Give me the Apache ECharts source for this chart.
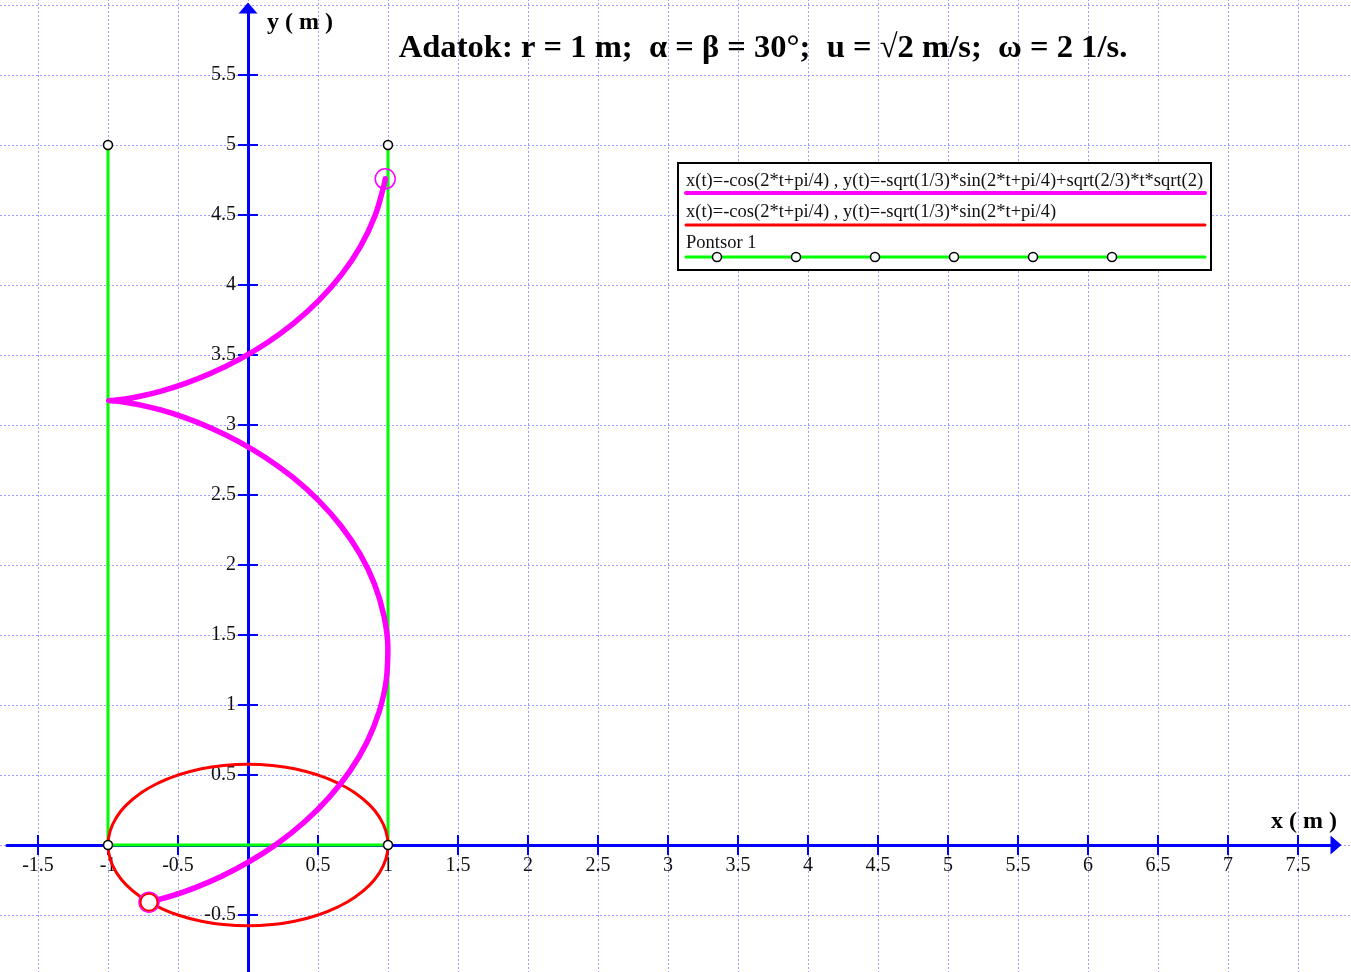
<!DOCTYPE html>
<html>
<head>
<meta charset="utf-8">
<script src="https://cdn.jsdelivr.net/npm/echarts@6/dist/echarts.min.js"></script>
<style>html,body{margin:0;padding:0;background:#fff}#c{width:1351px;height:972px}</style>
</head>
<body>
<div id="c"></div>
<script>
// ---- data ----
const xTickValues = [-1.5,-1,-0.5,0.5,1,1.5,2,2.5,3,3.5,4,4.5,5,5.5,6,6.5,7,7.5];
const yTickValues = [-0.5,0.5,1,1.5,2,2.5,3,3.5,4,4.5,5,5.5];

// magenta curve x(t), y(t)
const magentaX = [-0.7071,-0.5525,-0.3759,-0.1843,0.0146,0.2130,0.4028,0.5766,0.7275,0.8493,0.9372,0.9878,0.9990,0.9704,0.9031,0.7998,0.6646,0.5029,0.3212,0.1267,-0.0729,-0.2696,-0.4556,-0.6233,-0.7663,-0.8786,-0.9560,-0.9952,-1.0000,-0.9948,-0.9547,-0.8765,-0.7634,-0.6199,-0.4516,-0.2654,-0.0685,0.1310,0.3254,0.5069,0.6679,0.8025,0.9050,0.9715,0.9802];
const magentaY = [-0.4082,-0.3658,-0.3041,-0.2210,-0.1154,0.0132,0.1644,0.3366,0.5276,0.7344,0.9534,1.1804,1.4109,1.6405,1.8645,2.0786,2.2789,2.4620,2.6252,2.7666,2.8852,2.9808,3.0543,3.1073,3.1422,3.1624,3.1716,3.1741,3.1742,3.1743,3.1768,3.1862,3.2067,3.2420,3.2954,3.3693,3.4655,3.5845,3.7265,3.8902,4.0737,4.2743,4.4887,4.7129,4.7585];

// red ellipse
const redX = [-0.7071,-0.6428,-0.5,-0.3420,-0.1736,0,0.1736,0.3420,0.5,0.6428,0.7660,0.8660,0.9397,0.9848,1,0.9848,0.9397,0.8660,0.7660,0.6428,0.5,0.3420,0.1736,0,-0.1736,-0.3420,-0.5,-0.6428,-0.7660,-0.8660,-0.9397,-0.9848,-1,-0.9848,-0.9397,-0.8660,-0.7660,-0.7071];
const redY = [-0.4082,-0.4423,-0.5,-0.5425,-0.5686,-0.5774,-0.5686,-0.5425,-0.5,-0.4423,-0.3711,-0.2887,-0.1975,-0.1003,0,0.1003,0.1975,0.2887,0.3711,0.4423,0.5,0.5425,0.5686,0.5774,0.5686,0.5425,0.5,0.4423,0.3711,0.2887,0.1975,0.1003,0,-0.1003,-0.1975,-0.2887,-0.3711,-0.4082];

// Pontsor 1
const pontX = [-1,-1,1,1];
const pontY = [5,0,0,5];

const titleText = 'Adatok: r = 1 m;  α = β = 30°;  u = √2 m/s;  ω = 2 1/s.';
const legendTexts = ['x(t)=-cos(2*t+pi/4) , y(t)=-sqrt(1/3)*sin(2*t+pi/4)+sqrt(2/3)*t*sqrt(2)',
                     'x(t)=-cos(2*t+pi/4) , y(t)=-sqrt(1/3)*sin(2*t+pi/4)',
                     'Pontsor 1'];

const zip = (a,b) => a.map((v,i)=>[v,b[i]]);
const SERIF = '"Liberation Serif","Times New Roman",serif';
const BLUE = '#0000ff';
const GRIDC = '#9d9dff';

const chart = echarts.init(document.getElementById('c'));
const LF = '18.5px ' + SERIF;
const legendGraphics = [
  {type:'rect', shape:{x:678,y:163,width:533,height:107}, style:{fill:'#fff', stroke:'#000', lineWidth:2}, z:100},
  {type:'text', x:686, y:181, style:{text:legendTexts[0], font:LF, fill:'#111', verticalAlign:'middle'}, z:101},
  {type:'line', shape:{x1:686,y1:193,x2:1205,y2:193}, style:{stroke:'#ff00ff', lineWidth:4, lineCap:'round'}, z:101},
  {type:'text', x:686, y:212, style:{text:legendTexts[1], font:LF, fill:'#111', verticalAlign:'middle'}, z:101},
  {type:'line', shape:{x1:686,y1:225,x2:1205,y2:225}, style:{stroke:'#ff0000', lineWidth:3, lineCap:'round'}, z:101},
  {type:'text', x:686, y:243, style:{text:legendTexts[2], font:LF, fill:'#111', verticalAlign:'middle'}, z:101},
  {type:'line', shape:{x1:686,y1:257,x2:1205,y2:257}, style:{stroke:'#00ff00', lineWidth:3, lineCap:'round'}, z:101}
];
for (let i=0;i<6;i++) legendGraphics.push({type:'circle', shape:{cx:717+79*i, cy:257, r:4.5}, style:{fill:'#fff', stroke:'#000', lineWidth:1.5}, z:102});

const hiddenAxis = (type, grid, min, max) => ({type:'value', gridIndex:grid, min:min, max:max, show:false,
  axisLine:{show:false, onZero:false}, axisTick:{show:false}, axisLabel:{show:false}, splitLine:{show:false}});
const labelFont = {color:'#111', fontFamily:SERIF, fontSize:20};

chart.setOption({
  animation:false,
  backgroundColor:'#fff',
  grid:[
    {left:-32, top:-65, width:1400, height:1050, outerBoundsMode:'none', containLabel:false},   // data + split lines
    {left:7, top:8, width:1329, height:837, outerBoundsMode:'none', containLabel:false},        // x axis line
    {left:-32, top:8, width:1400, height:837, outerBoundsMode:'none', containLabel:false},      // x labels
    {left:248, top:8, width:1000, height:1000, outerBoundsMode:'none', containLabel:false},     // y axis line
    {left:248, top:-65, width:1000, height:1050, outerBoundsMode:'none', containLabel:false}    // y labels
  ],
  xAxis:[
    {type:'value', gridIndex:0, min:-2, max:8, interval:0.5,
     axisLine:{show:false, onZero:false}, axisTick:{show:false}, axisLabel:{show:false},
     splitLine:{show:true, lineStyle:{color:GRIDC, width:1, type:[2,2]}}},
    {type:'value', gridIndex:1, position:'bottom', min:-241/140, max:1088/140,
     axisLine:{show:true, onZero:false, symbol:['none','triangle'], symbolSize:[19,11], lineStyle:{color:BLUE, width:3}},
     axisTick:{show:true, inside:true, length:10, customValues:xTickValues, lineStyle:{color:BLUE, width:2}},
     axisLabel:{show:false}, splitLine:{show:false}},
    {type:'value', gridIndex:2, position:'bottom', min:-2, max:8,
     axisLine:{show:false, onZero:false},
     axisTick:{show:true, inside:false, length:10, customValues:xTickValues, lineStyle:{color:BLUE, width:2}},
     axisLabel:Object.assign({show:true, customValues:xTickValues, margin:11}, labelFont), splitLine:{show:false}},
    hiddenAxis('x', 3, 0, 1000/140),
    hiddenAxis('x', 4, 0, 1000/140)
  ],
  yAxis:[
    {type:'value', gridIndex:0, min:-1, max:6.5, interval:0.5,
     axisLine:{show:false, onZero:false}, axisTick:{show:false}, axisLabel:{show:false},
     splitLine:{show:true, lineStyle:{color:GRIDC, width:1, type:[2,2]}}},
    hiddenAxis('y', 1, 0, 837/140),
    hiddenAxis('y', 2, 0, 837/140),
    {type:'value', gridIndex:3, position:'left', min:-163/140, max:837/140,
     axisLine:{show:true, onZero:false, symbol:['none','triangle'], symbolSize:[19,11], lineStyle:{color:BLUE, width:3}},
     axisTick:{show:true, inside:true, length:10, customValues:yTickValues, lineStyle:{color:BLUE, width:2}},
     axisLabel:{show:false}, splitLine:{show:false}},
    {type:'value', gridIndex:4, position:'left', min:-1, max:6.5,
     axisLine:{show:false, onZero:false},
     axisTick:{show:true, inside:false, length:10, customValues:yTickValues, lineStyle:{color:BLUE, width:2}},
     axisLabel:Object.assign({show:true, customValues:yTickValues, margin:12}, labelFont), splitLine:{show:false}}
  ],
  series:[
    {type:'line', name:'Pontsor 1', xAxisIndex:0, yAxisIndex:0, data:zip(pontX,pontY), showSymbol:false,
     lineStyle:{color:'#00ff00', width:3}, z:3},
    {type:'line', name:'red', xAxisIndex:0, yAxisIndex:0, data:zip(redX,redY), showSymbol:false, smooth:0.5,
     lineStyle:{color:'#ff0000', width:3}, z:4},
    {type:'line', name:'magenta', xAxisIndex:0, yAxisIndex:0, data:zip(magentaX,magentaY), showSymbol:false, smooth:0.4,
     lineStyle:{color:'#ff00ff', width:5.5, cap:'round', join:'round'}, z:5},
    {type:'scatter', xAxisIndex:0, yAxisIndex:0,
     data:[[magentaX[0],magentaY[0]],[magentaX[magentaX.length-1],magentaY[magentaY.length-1]]],
     symbol:'circle', symbolSize:20, itemStyle:{color:'rgba(0,0,0,0)', borderColor:'#ff00ff', borderWidth:1.5, opacity:1}, z:6},
    {type:'scatter', xAxisIndex:0, yAxisIndex:0, data:[[redX[0],redY[0]]],
     symbol:'circle', symbolSize:17, itemStyle:{color:'#fff', borderColor:'#ff0000', borderWidth:2, opacity:1}, z:7},
    {type:'scatter', xAxisIndex:0, yAxisIndex:0, data:zip(pontX,pontY),
     symbol:'circle', symbolSize:9, itemStyle:{color:'#fff', borderColor:'#000', borderWidth:1.5, opacity:1}, z:8}
  ],
  graphic:[
    {type:'text', x:763, y:49, style:{text:titleText, font:'bold 32.6px '+SERIF, fill:'#000', align:'center', verticalAlign:'middle'}, z:50},
    {type:'text', x:267, y:23, style:{text:'y ( m )', font:'bold 24px '+SERIF, fill:'#000', verticalAlign:'middle'}, z:50},
    {type:'text', x:1271, y:822, style:{text:'x ( m )', font:'bold 24px '+SERIF, fill:'#000', verticalAlign:'middle'}, z:50}
  ].concat(legendGraphics)
});
</script>
</body>
</html>
